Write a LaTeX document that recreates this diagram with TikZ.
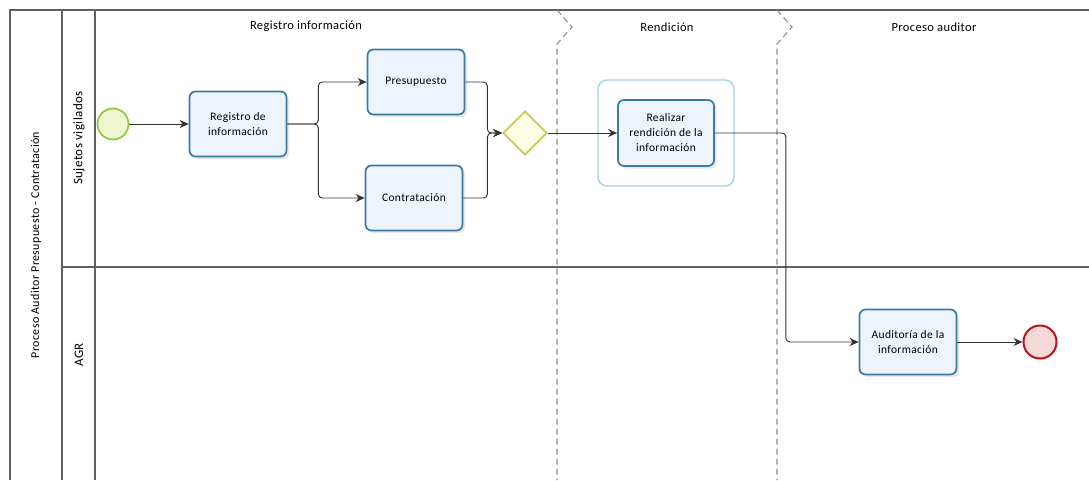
\documentclass[tikz,border=0pt]{standalone}
\usepackage{fontspec}
\setmainfont{Carlito}[LetterSpace=3]
\usetikzlibrary{shadows,arrows.meta,shapes.geometric}

\definecolor{taskline}{HTML}{3A7BA6}
\definecolor{taskfill}{HTML}{EDF4FB}
\definecolor{startline}{HTML}{8DC63F}
\definecolor{startfill}{HTML}{EEF7D2}
\definecolor{gateline}{HTML}{C9C85A}
\definecolor{gatefill}{HTML}{FDFDE4}
\definecolor{endline}{HTML}{B3141E}
\definecolor{endfill}{HTML}{F5D9D9}
\definecolor{groupline}{HTML}{A9D0E2}
\definecolor{poolline}{HTML}{606060}

\begin{document}
\begin{tikzpicture}[x=1pt,y=-1pt,
	task/.style={draw=taskline, line width=1.7pt, rounded corners=6pt,
		fill=taskfill, minimum width=97pt, minimum height=65pt,
		align=center, font=\fontsize{11.5}{15}\selectfont,
		drop shadow={opacity=0.2, shadow xshift=2.5pt, shadow yshift=-2.5pt}},
	flow/.style={draw=black!80, line width=0.95pt, rounded corners=4pt,
		-{Stealth[length=9pt,width=8pt]}},
	phase/.style={draw=black!45, line width=1.1pt, dash pattern=on 6pt off 4pt},
	header/.style={font=\fontsize{12.5}{14}\selectfont},
	lane/.style={rotate=90}
]
\useasboundingbox (0,0) rectangle (1089,480);

%Pool and lanes
\draw[poolline, line width=1.1pt] (1089,10) -- (10,10) -- (10,480);
\draw[poolline, line width=1.1pt] (62,10) -- (62,480);
\draw[poolline, line width=1.1pt] (95,10) -- (95,480);
\draw[poolline, line width=1.1pt] (62,267) -- (1089,267);
\node [lane, font=\fontsize{12}{14}\selectfont] (pooltext) at (36,245)
	{Proceso Auditor Presupuesto - Contratación};
\node [lane, font=\fontsize{13}{15}\selectfont] (sujtext) at (79,138) {Sujetos vigilados};
\node [lane, font=\fontsize{13}{15}\selectfont] (agrtext) at (79,355) {AGR};

%Phases
\draw[phase] (557,10) -- (572,27) -- (557,44) -- (557,480);
\draw[phase] (777,10) -- (792,27) -- (777,44) -- (777,480);
\node [header] (regphase) at (306,26) {Registro información};
\node [header] (renphase) at (667,27) {Rendición};
\node [header] (audphase) at (934,27) {Proceso auditor};

%Start event
\node [circle, draw=startline, line width=1.7pt, fill=startfill,
	minimum size=31pt, inner sep=0pt] (start) at (113,124) {};

%Registro
\node [task] (reg) at (238,124) {Registro de\\información};

%Presupuesto and Contratacion
\node [task] (pres) at (416,82) {Presupuesto};
\node [task] (cont) at (414,198) {Contratación};

%Gateway
\node [diamond, draw=gateline, line width=1.7pt, fill=gatefill,
	minimum size=44pt, inner sep=0pt, shape aspect=1] (gw) at (525,133) {};

%Rendicion group
\node [draw=groupline, line width=1.4pt, rounded corners=9pt,
	minimum width=136pt, minimum height=106pt] (rengroup) at (666,133) {};
\node [task, minimum width=96pt, minimum height=66pt] (real) at (666,133)
	{Realizar\\rendición de la\\información};

%Auditoria
\node [task] (aud) at (908,342) {Auditoría de la\\información};

%End event
\node [circle, draw=endline, line width=2pt, fill=endfill,
	minimum size=33pt, inner sep=0pt,
	drop shadow={opacity=0.15, shadow xshift=2pt, shadow yshift=-2pt}] (end) at (1040,342) {};

%Flows
\draw[flow] (start.east) -- (reg.west);
\draw[flow] (reg.east) -- ++(31,0) |- (pres.west);
\draw[flow] (reg.east) -- ++(31,0) |- (cont.west);
\draw[flow] (pres.east) -- ++(22,0) |- (gw.west);
\draw[flow] (cont.east) -- ++(24,0) |- (gw.west);
\draw[flow] (gw.east) -- (real.west);
\draw[flow] (real.east) -- ++(71,0) |- (aud.west);
\draw[flow] (aud.east) -- (end.west);

\end{tikzpicture}
\end{document}
